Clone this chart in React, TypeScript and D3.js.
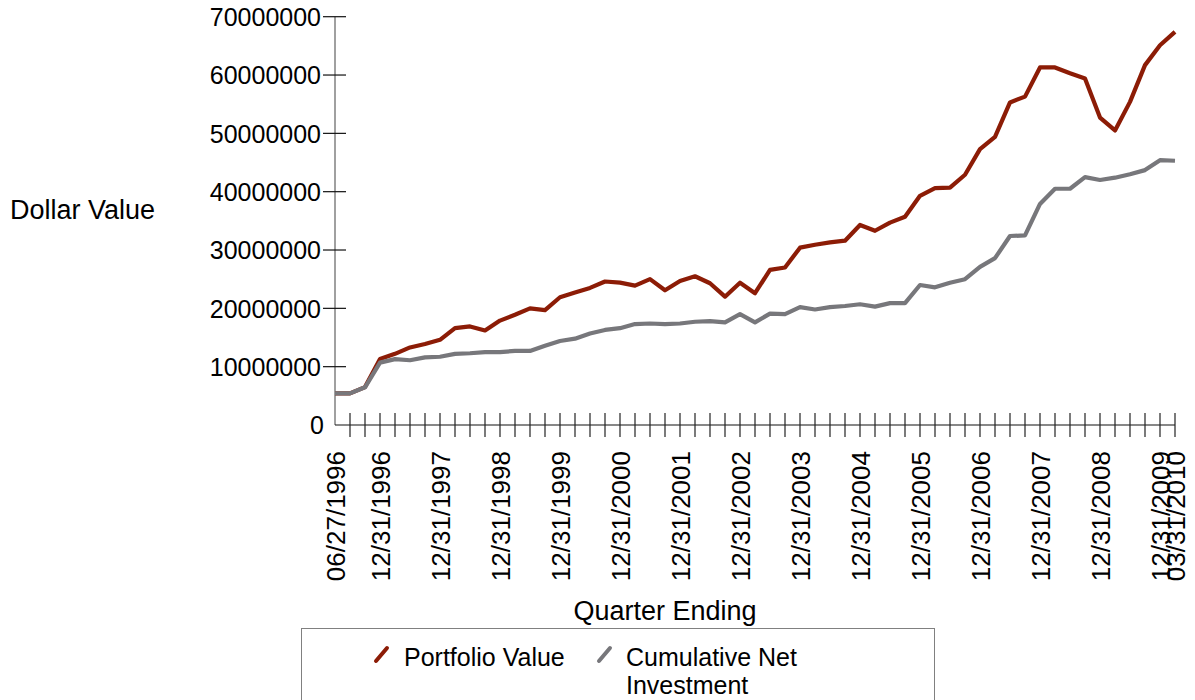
import React from "react";
import * as d3 from "d3";

const quarters: string[] = [
  "06/27/1996", "06/30/1996", "09/30/1996", "12/31/1996",
  "03/31/1997", "06/30/1997", "09/30/1997", "12/31/1997",
  "03/31/1998", "06/30/1998", "09/30/1998", "12/31/1998",
  "03/31/1999", "06/30/1999", "09/30/1999", "12/31/1999",
  "03/31/2000", "06/30/2000", "09/30/2000", "12/31/2000",
  "03/31/2001", "06/30/2001", "09/30/2001", "12/31/2001",
  "03/31/2002", "06/30/2002", "09/30/2002", "12/31/2002",
  "03/31/2003", "06/30/2003", "09/30/2003", "12/31/2003",
  "03/31/2004", "06/30/2004", "09/30/2004", "12/31/2004",
  "03/31/2005", "06/30/2005", "09/30/2005", "12/31/2005",
  "03/31/2006", "06/30/2006", "09/30/2006", "12/31/2006",
  "03/31/2007", "06/30/2007", "09/30/2007", "12/31/2007",
  "03/31/2008", "06/30/2008", "09/30/2008", "12/31/2008",
  "03/31/2009", "06/30/2009", "09/30/2009", "12/31/2009",
  "03/31/2010",
];

// which quarters get a label under the axis
const labeledQuarters: string[] = [
  "06/27/1996", "12/31/1996", "12/31/1997", "12/31/1998", "12/31/1999",
  "12/31/2000", "12/31/2001", "12/31/2002", "12/31/2003", "12/31/2004",
  "12/31/2005", "12/31/2006", "12/31/2007", "12/31/2008", "12/31/2009",
  "03/31/2010",
];

// values in millions of dollars
const portfolioValue: number[] = [
  5.43, 5.43, 6.5, 11.3, 12.2, 13.3, 13.9, 14.6, 16.6, 16.9, 16.2, 17.9,
  18.9, 20.0, 19.7, 21.9, 22.7, 23.5, 24.6, 24.4, 23.9, 25.0, 23.1, 24.7,
  25.5, 24.3, 22.0, 24.4, 22.6, 26.6, 27.0, 30.4, 30.9, 31.3, 31.6, 34.3,
  33.3, 34.7, 35.7, 39.3, 40.6, 40.7, 42.9, 47.3, 49.4, 55.3, 56.3, 61.3,
  61.3, 60.3, 59.4, 52.7, 50.5, 55.4, 61.7, 65.1, 67.4,
];

const cumulativeNetInvestment: number[] = [
  5.43, 5.43, 6.46, 10.7, 11.3, 11.1, 11.6, 11.7, 12.2, 12.3, 12.5, 12.5,
  12.7, 12.7, 13.6, 14.4, 14.8, 15.7, 16.3, 16.6, 17.3, 17.4, 17.3, 17.4,
  17.7, 17.8, 17.6, 19.0, 17.6, 19.1, 19.0, 20.2, 19.8, 20.2, 20.4, 20.7,
  20.3, 20.9, 20.9, 24.0, 23.6, 24.4, 25.0, 27.1, 28.6, 32.4, 32.5, 37.9,
  40.5, 40.5, 42.5, 42.0, 42.4, 43.0, 43.7, 45.4, 45.3,
];

const yTicks: number[] = [10000000, 20000000, 30000000, 40000000, 50000000, 60000000, 70000000];

const FONT = "'Liberation Sans', Arial, sans-serif";
const RED = "#8c1c06";
const GRAY = "#77777b";

const App: React.FC = () => {
  const left = 335;
  const right = 1175;
  const top = 16.7;
  const bottom = 425;

  const x = d3.scalePoint<string>().domain(quarters).range([left, right]);
  const y = d3.scaleLinear().domain([0, 70000000]).range([bottom, top]);

  const line = d3
    .line<number>()
    .x((_, i) => x(quarters[i]) as number)
    .y((d) => y(d * 1000000));

  return (
    <svg
      width={1195}
      height={700}
      style={{ position: "absolute", left: 0, top: 0, background: "#fff" }}
      fontFamily={FONT}
    >
      {/* y axis */}
      <line x1={left} x2={left} y1={top} y2={bottom} stroke="#808080" strokeWidth={1.5} />
      {yTicks.map((t) => (
        <g key={t}>
          <line x1={323} x2={346} y1={y(t)} y2={y(t)} stroke="#111" strokeWidth={1.2} />
          <text x={321} y={y(t)} dy="0.37em" textAnchor="end" fontSize={25} fill="#000">
            {t}
          </text>
        </g>
      ))}
      <text x={324} y={y(0)} dy="0.37em" textAnchor="end" fontSize={25} fill="#000">
        0
      </text>

      {/* x axis */}
      <line x1={left} x2={right} y1={bottom} y2={bottom} stroke="#111" strokeWidth={1.2} />
      {quarters.slice(1).map((q) => (
        <line
          key={q}
          x1={x(q)}
          x2={x(q)}
          y1={413}
          y2={437}
          stroke="#222"
          strokeWidth={1.2}
        />
      ))}
      {labeledQuarters.map((q) => (
        <text
          key={q}
          transform={`translate(${x(q)},451) rotate(-90)`}
          dy="0.4em"
          textAnchor="end"
          fontSize={26}
          fill="#000"
        >
          {q}
        </text>
      ))}

      {/* series */}
      <path
        d={line(portfolioValue) || ""}
        fill="none"
        stroke={RED}
        strokeWidth={4.2}
        strokeLinejoin="round"
      />
      <path
        d={line(cumulativeNetInvestment) || ""}
        fill="none"
        stroke={GRAY}
        strokeWidth={4.2}
        strokeLinejoin="round"
      />

      {/* axis titles */}
      <text x={10} y={219} fontSize={27} fill="#000">
        Dollar Value
      </text>
      <text x={665} y={620} textAnchor="middle" fontSize={27} fill="#000">
        Quarter Ending
      </text>

      {/* legend */}
      <rect x={301.5} y={628.5} width={633} height={90} fill="#fff" stroke="#808080" strokeWidth={1} />
      <line x1={376} y1={661} x2={387} y2={648} stroke={RED} strokeWidth={4} strokeLinecap="round" />
      <text x={404} y={666} fontSize={25} fill="#000">
        Portfolio Value
      </text>
      <line x1={599} y1={661} x2={610} y2={648} stroke={GRAY} strokeWidth={4} strokeLinecap="round" />
      <text x={626} y={666} fontSize={25} fill="#000">
        Cumulative Net
      </text>
      <text x={626} y={694} fontSize={25} fill="#000">
        Investment
      </text>
    </svg>
  );
};

export default App;
